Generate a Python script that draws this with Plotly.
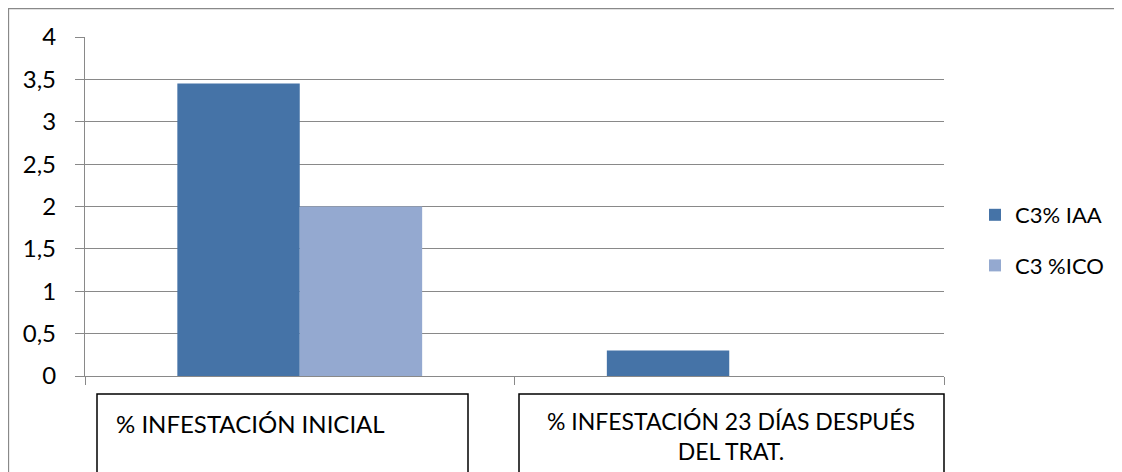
import plotly.graph_objects as go

# data
categories = ["% INFESTACIÓN INICIAL", "% INFESTACIÓN 23 DÍAS DESPUÉS<br>DEL TRAT."]
series_names = ["C3% IAA", "C3 %ICO"]
iaa_values = [3.45, 0.3]
ico_values = [2.0, 0.0]
colors = ["#4573A7", "#94A9D0"]

OFF = 8  # page body margin
W, H = 1122 - OFF, 472 - OFF
L, R, T, B = 85 - OFF, 944 - OFF, 37 - OFF, 376 - OFF
FONT = "Lato"
GRID = "#898989"


# helper: reference pixel -> paper coords
def px(x):
    return (x - OFF - L) / (R - L)


def py(y):
    return (B - (y - OFF)) / (B - T)


fig = go.Figure()
for name, vals, col in zip(series_names, [iaa_values, ico_values], colors):
    fig.add_trace(go.Bar(x=categories, y=vals, name=name, marker_color=col,
                         marker_line_width=0, legendgroup=name))

fig.update_layout(
    width=W, height=H,
    margin=dict(l=L, r=W - R, t=T, b=H - B),
    plot_bgcolor="white", paper_bgcolor="white",
    separators=",.",
    barmode="group", bargap=0.43, bargroupgap=0,
    font=dict(family=FONT, size=24, color="black"),
    legend=dict(x=px(975), y=py(194), xanchor="left", yanchor="top",
                font=dict(size=22), traceorder="grouped", tracegroupgap=19,
                itemwidth=30),
)

fig.update_yaxes(range=[0, 4], dtick=0.5, showgrid=True, gridcolor=GRID, gridwidth=1.3,
                 showline=True, linecolor=GRID, linewidth=1.3,
                 ticks="outside", ticklen=9, tickcolor=GRID, ticklabelstandoff=14,
                 tickfont=dict(size=24), zeroline=False)
fig.update_xaxes(showticklabels=False, showline=True, linecolor=GRID, linewidth=1.3,
                 ticks="outside", tickson="boundaries", ticklen=8, tickcolor=GRID)

# outer chart border
fig.add_shape(type="rect", xref="paper", yref="paper",
              x0=px(8.5), x1=px(1117), y0=py(490), y1=py(8.5),
              line=dict(color=GRID, width=1.3))

# category label boxes
fig.add_shape(type="rect", xref="paper", yref="paper",
              x0=px(97), x1=px(468), y0=py(490), y1=py(394),
              line=dict(color="black", width=1.5))
fig.add_shape(type="rect", xref="paper", yref="paper",
              x0=px(519), x1=px(944), y0=py(490), y1=py(394),
              line=dict(color="black", width=1.5))

fig.add_annotation(text=categories[0], xref="paper", yref="paper",
                   x=px(114), y=py(423), xanchor="left", yanchor="middle",
                   showarrow=False, font=dict(size=24))
fig.add_annotation(text=categories[1], xref="paper", yref="paper",
                   x=px(731), y=py(436), xanchor="center", yanchor="middle",
                   showarrow=False, align="center", font=dict(size=23))

fig.write_html("out.html")
